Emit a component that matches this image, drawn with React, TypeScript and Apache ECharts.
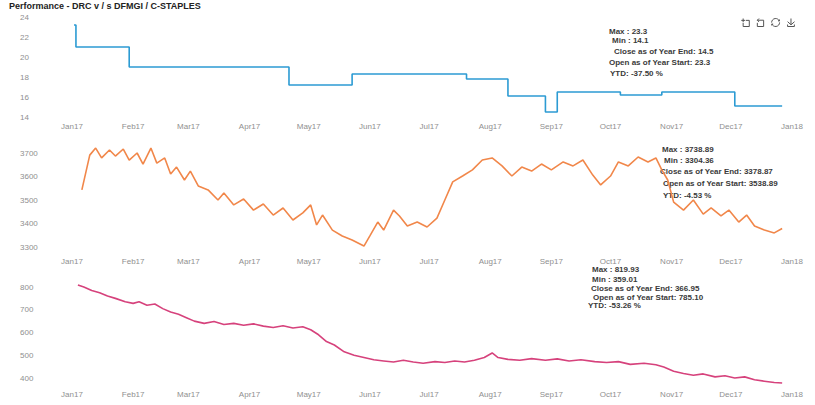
import React, { useEffect, useRef } from "react";
import * as echarts from "echarts";

const TITLE = "Performance - DRC v / s DFMGI / C-STAPLES";
const MONTHS = ["Jan", "Feb", "Mar", "Apr", "May", "Jun", "Jul", "Aug", "Sep", "Oct", "Nov", "Dec"];

// Chart 1 (step line)
const dates1 = ["2017-01-02", "2017-01-03", "2017-01-30", "2017-04-21", "2017-05-23", "2017-07-20", "2017-08-10", "2017-08-29", "2017-09-04", "2017-10-06", "2017-10-27", "2017-12-03", "2017-12-27"];
const values1 = [23.2, 21.0, 19.0, 17.2, 18.3, 17.8, 16.1, 14.5, 16.5, 16.2, 16.5, 15.1, 15.1];
// axis range [min, max, step] and labelled range [from, to, every]
const yAxis1 = [14, 24, 2];
const yLabels1 = [14, 24, 2];
const stats1 = ["Max : 23.3", "Min : 14.1", "Close as of Year End: 14.5", "Open as of Year Start: 23.3", "YTD: -37.50 %"];

// Chart 2
const dates2 = ["2017-01-06", "2017-01-10", "2017-01-13", "2017-01-16", "2017-01-20", "2017-01-23", "2017-01-27", "2017-01-30", "2017-02-03", "2017-02-06", "2017-02-10", "2017-02-13", "2017-02-17", "2017-02-20", "2017-02-23", "2017-02-27", "2017-03-02", "2017-03-06", "2017-03-11", "2017-03-16", "2017-03-19", "2017-03-24", "2017-03-29", "2017-04-03", "2017-04-08", "2017-04-13", "2017-04-18", "2017-04-23", "2017-04-28", "2017-05-02", "2017-05-05", "2017-05-08", "2017-05-13", "2017-05-18", "2017-05-23", "2017-05-29", "2017-06-01", "2017-06-05", "2017-06-08", "2017-06-13", "2017-06-16", "2017-06-20", "2017-06-25", "2017-06-30", "2017-07-05", "2017-07-09", "2017-07-13", "2017-07-18", "2017-07-23", "2017-07-28", "2017-08-02", "2017-08-07", "2017-08-12", "2017-08-17", "2017-08-22", "2017-08-27", "2017-09-01", "2017-09-07", "2017-09-12", "2017-09-17", "2017-09-22", "2017-09-26", "2017-10-01", "2017-10-05", "2017-10-10", "2017-10-15", "2017-10-20", "2017-10-24", "2017-10-27", "2017-10-30", "2017-11-02", "2017-11-07", "2017-11-12", "2017-11-17", "2017-11-21", "2017-11-26", "2017-11-30", "2017-12-05", "2017-12-09", "2017-12-13", "2017-12-18", "2017-12-23", "2017-12-27"];
const values2 = [3543, 3691, 3721, 3679, 3713, 3687, 3717, 3670, 3700, 3653, 3721, 3657, 3679, 3611, 3640, 3585, 3623, 3560, 3543, 3500, 3530, 3479, 3504, 3457, 3483, 3436, 3466, 3415, 3445, 3479, 3394, 3436, 3372, 3347, 3330, 3304, 3347, 3406, 3372, 3457, 3432, 3389, 3406, 3385, 3423, 3500, 3577, 3602, 3628, 3670, 3679, 3645, 3602, 3640, 3623, 3653, 3628, 3662, 3645, 3670, 3606, 3564, 3602, 3662, 3645, 3683, 3662, 3679, 3628, 3585, 3491, 3457, 3500, 3440, 3466, 3432, 3457, 3406, 3436, 3389, 3372, 3360, 3379];
const yAxis2 = [3290, 3740, 10];
const yLabels2 = [3300, 3700, 100];
const stats2 = ["Max : 3738.89", "Min : 3304.36", "Close as of Year End: 3378.87", "Open as of Year Start: 3538.89", "YTD: -4.53 %"];

// Chart 3
const dates3 = ["2017-01-04", "2017-01-07", "2017-01-11", "2017-01-15", "2017-01-19", "2017-01-23", "2017-01-28", "2017-02-01", "2017-02-04", "2017-02-08", "2017-02-12", "2017-02-16", "2017-02-20", "2017-02-24", "2017-02-28", "2017-03-04", "2017-03-09", "2017-03-14", "2017-03-19", "2017-03-24", "2017-03-29", "2017-04-03", "2017-04-08", "2017-04-13", "2017-04-18", "2017-04-23", "2017-04-28", "2017-05-02", "2017-05-06", "2017-05-10", "2017-05-14", "2017-05-19", "2017-05-24", "2017-05-29", "2017-06-03", "2017-06-08", "2017-06-13", "2017-06-18", "2017-06-23", "2017-06-28", "2017-07-04", "2017-07-09", "2017-07-14", "2017-07-19", "2017-07-24", "2017-07-29", "2017-08-02", "2017-08-05", "2017-08-10", "2017-08-16", "2017-08-22", "2017-08-29", "2017-09-04", "2017-09-10", "2017-09-16", "2017-09-23", "2017-09-29", "2017-10-05", "2017-10-11", "2017-10-18", "2017-10-24", "2017-10-28", "2017-11-02", "2017-11-07", "2017-11-12", "2017-11-17", "2017-11-23", "2017-11-28", "2017-12-03", "2017-12-08", "2017-12-13", "2017-12-18", "2017-12-23", "2017-12-27"];
const values3 = [809, 800, 785, 775, 760, 750, 735, 728, 735, 720, 725, 705, 690, 680, 665, 650, 640, 648, 635, 640, 632, 638, 628, 622, 630, 620, 625, 612, 590, 560, 545, 515, 500, 490, 480, 475, 470, 478, 470, 465, 472, 468, 475, 470, 478, 490, 510, 490, 482, 478, 485, 478, 484, 475, 480, 472, 468, 472, 460, 465, 458, 448, 430, 420, 412, 418, 405, 410, 400, 405, 392, 386, 380, 378];
const yAxis3 = [360, 820, 10];
const yLabels3 = [400, 800, 100];
const stats3 = ["Max : 819.93", "Min : 359.01", "Close as of Year End: 366.95", "Open as of Year Start: 785.10", "YTD: -53.26 %"];

const COLORS = ["#2c9bd3", "#f1874a", "#d6427c"];
const FONT = "'Liberation Sans', Arial, sans-serif";

export default function App() {
  const ref = useRef<HTMLDivElement>(null);
  useEffect(() => {
    const chart = echarts.init(ref.current!, undefined, { renderer: "svg" });
    const DAY = 86400000;
    const grids = [
      { left: 72, right: 23, top: 17, height: 100 },
      { left: 72, right: 23, top: 143.6, height: 105.75 },
      { left: 72, right: 23, top: 282.45, height: 104.65 },
    ];
    const labelMargins = [5, 8, 3];
    const axes = [yAxis1, yAxis2, yAxis3];
    const labs = [yLabels1, yLabels2, yLabels3];
    const dateSets = [dates1, dates2, dates3];
    const valueSets = [values1, values2, values3];
    const statSets = [stats1, stats2, stats3];
    const statPos = [
      { x: 609, ys: [31, 40, 51, 62, 73], dx: [0, 3, 5, 0, 1] },
      { x: 662, ys: [149, 160, 171, 183, 195], dx: [0, 2, -2, 1, 1] },
      { x: 592, ys: [269, 279, 288, 297, 305], dx: [0, 0, -1, 1, -4] },
    ];
    const fmt = (v: number) => {
      const d = new Date(v);
      return MONTHS[d.getMonth()] + String(d.getFullYear()).slice(2);
    };
    const xAxis = grids.map((_, i) => ({
      type: "time",
      gridIndex: i,
      min: new Date("2017-01-01").getTime(),
      max: new Date("2018-01-01").getTime(),
      minInterval: 28 * DAY,
      maxInterval: 31 * DAY,
      axisLine: { show: false },
      axisTick: { show: false },
      splitLine: { show: false },
      axisLabel: {
        formatter: fmt,
        color: "#8f8f8f",
        fontSize: 8,
        fontFamily: FONT,
        margin: labelMargins[i],
        hideOverlap: false,
        showMaxLabel: true,
        showMinLabel: true,
      },
    }));
    const yAxis = grids.map((_, i) => ({
      type: "value",
      gridIndex: i,
      min: axes[i][0],
      max: axes[i][1],
      interval: axes[i][2],
      axisLine: { show: false },
      axisTick: { show: false },
      splitLine: { show: false },
      axisLabel: {
        color: "#8f8f8f",
        fontSize: 8,
        fontFamily: FONT,
        margin: 52,
        align: "left",
        formatter: (v: number) => {
          const [a, b, s] = labs[i];
          const r = Math.round(v * 1000) / 1000;
          if (r < a - 1e-6 || r > b + 1e-6) return "";
          const k = (r - a) / s;
          return Math.abs(k - Math.round(k)) < 1e-6 ? String(r) : "";
        },
      },
    }));
    const series = grids.map((_, i) => ({
      type: "line",
      xAxisIndex: i,
      yAxisIndex: i,
      step: i === 0 ? "end" : undefined,
      showSymbol: false,
      clip: false,
      lineStyle: { color: COLORS[i], width: 1.6 },
      data: dateSets[i].map((d, j) => [d, valueSets[i][j]]),
    }));
    const graphic: any[] = [];
    statSets.forEach((lines, i) => {
      lines.forEach((t, j) => {
        graphic.push({
          type: "text",
          x: statPos[i].x + statPos[i].dx[j],
          y: statPos[i].ys[j],
          style: { text: t, font: `bold 8px ${FONT}`, fill: "#3a3a3a", textVerticalAlign: "middle" },
        });
      });
    });
    chart.setOption({
      animation: false,
      backgroundColor: "#ffffff",
      title: {
        text: TITLE,
        left: 9,
        top: 0,
        padding: [1, 0, 0, 0],
        textStyle: { fontSize: 9, lineHeight: 10, fontWeight: "bold", color: "#222", fontFamily: FONT },
      },
      toolbox: {
        right: 3,
        top: 1,
        itemSize: 8,
        itemGap: 3,
        iconStyle: { borderColor: "#555" },
        feature: { dataZoom: {}, restore: {}, saveAsImage: {} },
      },
      grid: grids,
      xAxis,
      yAxis,
      series,
      graphic,
    });
    return () => chart.dispose();
  }, []);
  return <div ref={ref} style={{ position: "fixed", left: 0, top: 0, width: 815, height: 405 }} />;
}
